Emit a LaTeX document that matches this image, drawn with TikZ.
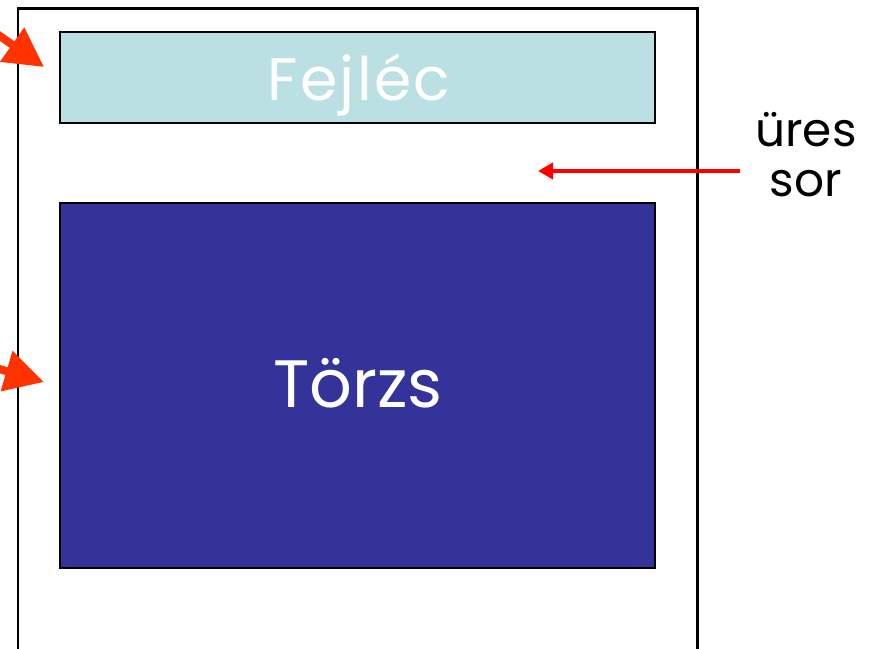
\documentclass[tikz,border=0pt]{standalone}
\usepackage{fontspec}
\setmainfont{Poppins}
\usetikzlibrary{arrows.meta}
\definecolor{headfill}{HTML}{BBE0E3}
\definecolor{bodyfill}{HTML}{333399}
\definecolor{bigred}{HTML}{FF3300}
\definecolor{thinred}{HTML}{FF0000}
\tikzset{
  box/.style={draw=black, line width=2.4pt},
  frame/.style={draw=black, line width=2.7pt},
  bigarrow/.style={draw=bigred, line width=8pt, -{Triangle[length=39pt,width=40pt]}, fill=bigred},
  thinarrow/.style={draw=thinred, line width=3.7pt, -{Triangle[length=15pt,width=16pt]}},
  lbl/.style={anchor=base, inner sep=0pt}
}
\begin{document}
\begin{tikzpicture}[x=1pt,y=-1pt]
\useasboundingbox (0,0) rectangle (875,648);
\clip (0,0) rectangle (875,648);
\draw[frame] (18,8.5) -- (697.5,8.5) -- (697.5,670) -- (18,670) -- cycle;
\node[box, fill=headfill, minimum width=595pt, minimum height=91pt, inner sep=0pt] (head) at (357.5,77.5) {};
\node[box, fill=bodyfill, minimum width=595pt, minimum height=365pt, inner sep=0pt] (body) at (357.5,385.5) {};
\node[lbl, text=white, font=\fontsize{60}{62}\selectfont\addfontfeature{LetterSpace=4}] (headtxt) at (359,100) {Fejléc};
\node[lbl, text=white, font=\fontsize{67}{70}\selectfont] (bodytxt) at (358,407) {Törzs};
\node[lbl, font=\fontsize{47}{48}\selectfont] (ures) at (806,146) {üres};
\node[lbl, font=\fontsize{47}{48}\selectfont] (sor) at (806,196) {sor};
\coordinate (a1s) at (-21.5,21);
\coordinate (a1e) at (44,67);
\coordinate (a2s) at (-33,359.5);
\coordinate (a2e) at (44,382);
\coordinate (a3s) at (740,171);
\coordinate (a3e) at (538,171);
\draw[bigarrow] (a1s) -- (a1e);
\draw[bigarrow] (a2s) -- (a2e);
\draw[thinarrow] (a3s) -- (a3e);
\end{tikzpicture}
\end{document}
